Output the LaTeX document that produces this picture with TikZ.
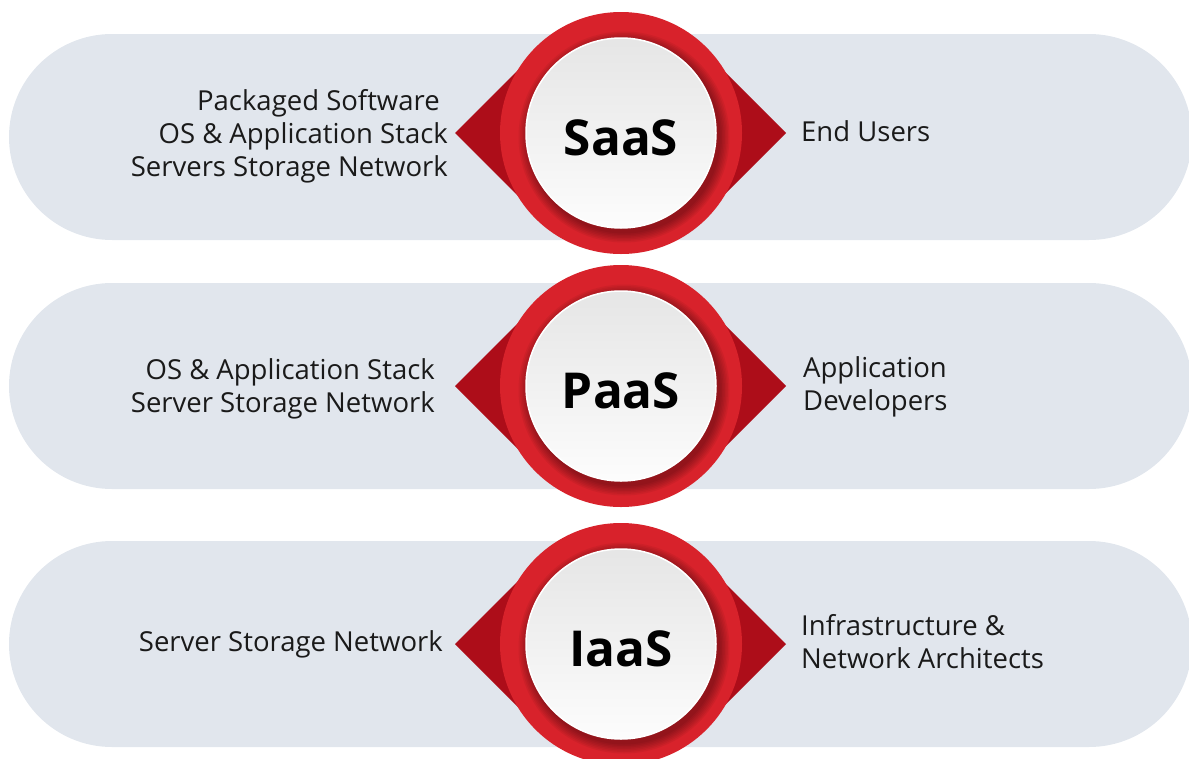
\documentclass[tikz,border=0pt]{standalone}
\usepackage{fontspec}
\setmainfont{Open Sans}
\definecolor{bandcol}{HTML}{E1E6ED}
\definecolor{ringred}{HTML}{D8222B}
\definecolor{darkred}{HTML}{AD0D19}
\definecolor{txtcol}{HTML}{1A1A1A}
\tikzset{
  ring/.style={circle, fill=ringred, draw=none, minimum size=242pt, inner sep=0pt},
  face/.style={circle, draw=white, line width=1.5pt, minimum size=190pt, inner sep=0pt,
     top color=black!10, bottom color=black!1},
  title/.style={font=\fontsize{49.5}{58}\selectfont\bfseries, text=black, inner sep=0pt},
  lefttxt/.style={font=\fontsize{27.5}{33}\selectfont, text=txtcol, align=right, anchor=east, inner sep=0pt},
  righttxt/.style={font=\fontsize{27.5}{33}\selectfont, text=txtcol, align=left, anchor=west, inner sep=0pt},
}
\newcommand{\tier}[4]{%
  % #1 band center y, #2 circle y, #3 name, #4 title
  \fill[bandcol, rounded corners=103pt] (9,#1-103) rectangle (1192,#1+103);
  \fill[darkred] (455,#2) -- (555,#2-100) -- (555,#2+100) -- cycle;
  \fill[darkred] (786,#2) -- (686,#2-100) -- (686,#2+100) -- cycle;
  \node[ring] (#3ring) at (621,#2) {};
  \foreach \k in {1,...,7}{
    \fill[black, opacity=0.05] (624,#2+4) circle (95pt+\k*1.5pt);
  }
  \node[face] (#3face) at (621,#2) {};
  \node[title] (#3title) at (621,#2+5) {#4};
}
\begin{document}
\begin{tikzpicture}[x=1pt,y=-1pt]
\useasboundingbox (0,0) rectangle (1189,758);
\tier{137}{133}{s}{SaaS}
\tier{386}{386}{p}{PaaS}
\tier{644}{644}{i}{IaaS}
\node[lefttxt] (sleft) at (448,136) {Packaged Software\hspace*{8pt}\\OS \& Application Stack\\Servers Storage Network};
\node[righttxt] (sright) at (801,131) {End Users};
\node[lefttxt] (pleft) at (435,389) {OS \& Application Stack\\Server Storage Network};
\node[righttxt] (pright) at (803,387) {Application\\Developers};
\node[lefttxt] (ileft) at (443,644) {Server Storage Network};
\node[righttxt] (iright) at (801,642) {Infrastructure \&\\Network Architects};
\end{tikzpicture}
\end{document}
